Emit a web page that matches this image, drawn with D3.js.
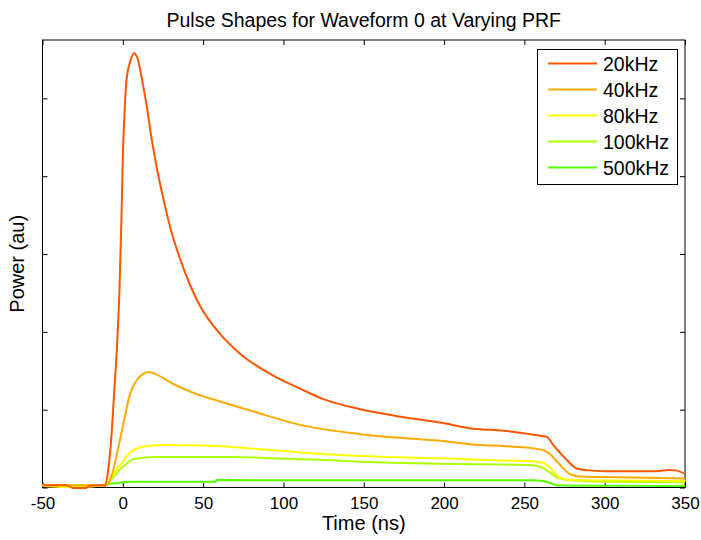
<!DOCTYPE html>
<html>
<head>
<meta charset="utf-8">
<script src="https://cdn.jsdelivr.net/npm/d3@7"></script>
<style>
body { margin: 0; background: #fff; }
text { font-family: Arial, "Liberation Sans", Helvetica, sans-serif; fill: #000; }
</style>
</head>
<body>
<svg id="chart" width="701" height="540"></svg>
<script>
// series: [time ns, power au]
var names = ['20kHz', '40kHz', '80kHz', '100kHz', '500kHz'];
var colors = ['#ff5500', '#ffaa00', '#ffff00', '#aaff00', '#55ff00'];
var xTicks = [-50, 0, 50, 100, 150, 200, 250, 300, 350];
var yTicks = [0, 0.2, 0.4, 0.6, 0.8, 1.0];

var p20 = [[-50,0.006],[-35,0.006],[-31,-0.001],[-23,-0.001],[-20,0.005],[-12,0.006],[-11.1,0.004],
    [-9.2,0.042],[-7.3,0.120],[-5.5,0.236],[-3.6,0.364],[-2.1,0.506],[-0.8,0.699],[0.1,0.862],
    [1.1,0.965],[2.3,1.047],[4.5,1.093],[7.0,1.116],[9.5,1.098],[12,1.047],[14.9,0.980],[17.6,0.905],
    [21.1,0.823],[25.2,0.743],[29.4,0.670],[35.6,0.588],[41.8,0.521],[48,0.467],[60.5,0.395],
    [73,0.344],[91.7,0.292],[110.4,0.254],[124.9,0.227],[147.8,0.201],[172.7,0.182],[197.6,0.167],
    [218.3,0.151],[237,0.146],[260,0.133],[264,0.130],[268,0.109],[272,0.090],[277,0.068],
    [282.6,0.049],[290,0.044],[299,0.042],[332,0.042],[340,0.045],[344,0.044],[350,0.035]];
var p40 = [[-50,0.006],[-12,0.006],[-10,0.006],[-7,0.030],[-2.8,0.103],[0.3,0.163],[4.5,0.240],
    [8,0.272],[12,0.290],[15.9,0.297],[20,0.292],[31.4,0.266],[46,0.240],[60.5,0.221],[80,0.197],
    [110.4,0.161],[147.8,0.137],[197.6,0.120],[222.6,0.109],[235,0.107],[259.8,0.098],[265,0.089],
    [270,0.068],[274,0.050],[278.5,0.034],[284.6,0.028],[300,0.027],[350,0.023]];
var p80 = [[-50,0.004],[-30,0.001],[-12,0.006],[-8,0.022],[-3.8,0.047],[0,0.066],[4.5,0.090],
    [10,0.102],[17,0.107],[25,0.109],[52,0.108],[80,0.100],[110.4,0.090],[147.8,0.081],[197.6,0.075],
    [222.6,0.071],[257.7,0.066],[262,0.063],[266,0.051],[272,0.025],[278.5,0.019],[300,0.018],[350,0.017]];
var p100 = [[-50,0.006],[-12,0.006],[-8,0.017],[-1.7,0.047],[3,0.063],[6.4,0.073],[12,0.076],
    [21,0.0785],[70,0.0785],[100,0.074],[129,0.070],[147.8,0.066],[197.6,0.061],[222.6,0.060],
    [253.8,0.057],[257.7,0.055],[262,0.049],[266,0.038],[272,0.023],[278.5,0.0185],[300,0.015],[350,0.014]];
var p500 = [[-50,0.006],[-12,0.006],[-10,0.008],[-1.7,0.012],[4.5,0.015],[58,0.015],[58.5,0.019],
    [255,0.0185],[261.7,0.017],[266,0.0116],[270,0.006],[300,0.0046],[350,0.004]];
var series = [p20, p40, p80, p100, p500];

var svg = d3.select('#chart');
var mLeft = 42.5, mRight = 685, mTop = 40, mBottom = 487.5;

var x = d3.scaleLinear().domain([-50, 350]).range([mLeft, mRight]);
var y = d3.scaleLinear().domain([0, 1.15]).range([mBottom, mTop]);

// box
svg.append('rect').attr('x', mLeft).attr('y', mTop)
    .attr('width', mRight - mLeft).attr('height', mBottom - mTop)
    .attr('fill', '#fff').attr('stroke', '#000').attr('stroke-width', 1);

// ticks (inward, all four sides)
var gx = svg.append('g').attr('transform', 'translate(0,' + mBottom + ')')
    .call(d3.axisBottom(x).tickValues(xTicks).tickSizeInner(-5).tickSizeOuter(0).tickPadding(9)
        .tickFormat(function(d) { return String(d); }));
gx.selectAll('text').style('font-size', '17px').style('font-family', 'Arial, "Liberation Sans", sans-serif');
svg.append('g').attr('transform', 'translate(0,' + mTop + ')')
    .call(d3.axisTop(x).tickValues(xTicks).tickSizeInner(-5).tickSizeOuter(0).tickFormat(''));
svg.append('g').attr('transform', 'translate(' + mLeft + ',0)')
    .call(d3.axisLeft(y).tickValues(yTicks).tickSizeInner(-5).tickSizeOuter(0).tickFormat(''));
svg.append('g').attr('transform', 'translate(' + mRight + ',0)')
    .call(d3.axisRight(y).tickValues(yTicks).tickSizeInner(-5).tickSizeOuter(0).tickFormat(''));
svg.selectAll('.domain').remove();
svg.selectAll('.tick line').attr('stroke', '#000');

var line = d3.line().x(function(d) { return x(d[0]); }).y(function(d) { return y(d[1]); })
    .curve(d3.curveMonotoneX);

// draw from the back so 20kHz sits on top
for (var i = series.length - 1; i >= 0; i--) {
    svg.append('path').datum(series[i])
        .attr('d', line)
        .attr('fill', 'none')
        .attr('stroke', colors[i])
        .attr('stroke-width', 2);
}

// titles
svg.append('text').attr('x', (mLeft + mRight) / 2).attr('y', 27)
    .attr('text-anchor', 'middle').style('font-size', '19.5px')
    .text('Pulse Shapes for Waveform 0 at Varying PRF');
svg.append('text').attr('x', (mLeft + mRight) / 2).attr('y', 530)
    .attr('text-anchor', 'middle').style('font-size', '20px')
    .text('Time (ns)');
svg.append('text').attr('transform', 'translate(24,' + ((mTop + mBottom) / 2) + ') rotate(-90)')
    .attr('text-anchor', 'middle').style('font-size', '20px')
    .text('Power (au)');

// legend
var lg = svg.append('g');
lg.append('rect').attr('x', 537.5).attr('y', 49.5).attr('width', 140).attr('height', 135)
    .attr('fill', '#fff').attr('stroke', '#000').attr('stroke-width', 1);
names.forEach(function(n, i) {
    var ly = 63.5 + i * 26;
    lg.append('line').attr('x1', 548).attr('x2', 597).attr('y1', ly).attr('y2', ly)
        .attr('stroke', colors[i]).attr('stroke-width', 2);
    lg.append('text').attr('x', 603).attr('y', ly + 7).style('font-size', '19.5px').text(n);
});
</script>
</body>
</html>
